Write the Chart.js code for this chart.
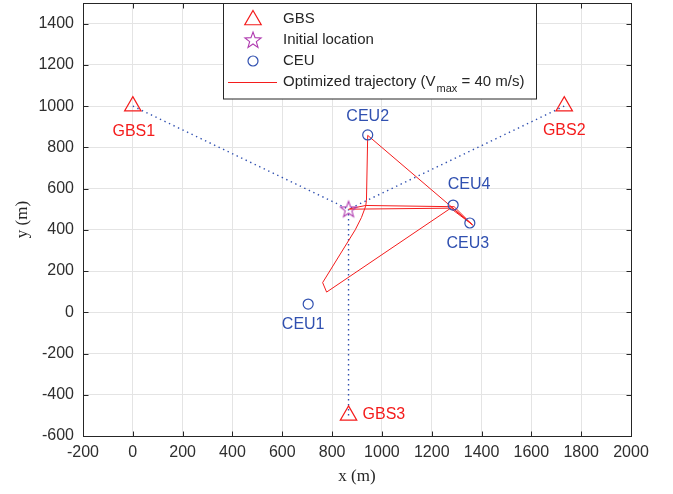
<!DOCTYPE html>
<html>
<head>
<meta charset="utf-8">
<script src="https://cdn.jsdelivr.net/npm/chart.js@4/dist/chart.umd.min.js"></script>
<style>
  html, body { margin: 0; padding: 0; background: #fff; }
  #wrap { width: 673px; height: 494px; }
</style>
</head>
<body>
<div id="wrap"><canvas id="trajChart"></canvas></div>
<script>
'use strict'

// ---- data ----
let xTicks = [-200, 0, 200, 400, 600, 800, 1000, 1200, 1400, 1600, 1800, 2000];
let yTicks = [-600, -400, -200, 0, 200, 400, 600, 800, 1000, 1200, 1400];

let gbsNames = ['GBS1', 'GBS2', 'GBS3'];
let gbsX = [0, 1732, 866];
let gbsY = [1000, 1000, -500];

let startX = [866];
let startY = [500];

let ceuNames = ['CEU1', 'CEU2', 'CEU3', 'CEU4'];
let ceuX = [704, 943, 1353, 1286];
let ceuY = [40, 860, 433, 520];

let trajX = [866, 1275, 1365, 943, 938, 935, 918, 893, 762, 778, 1280, 1360, 1290, 935, 870];
let trajY = [500, 505, 423, 858, 543, 515, 460, 400, 144, 98, 508, 428, 512, 518, 502];

// ---- styles ----
const RED = '#f41c1c';
const BLUE = '#3050b0';
const PURPLE = '#b03cb0';
const AXIS = '#262626';
const SANS = '"Liberation Sans", Arial, sans-serif';
const SERIF = '"Liberation Serif", "DejaVu Serif", serif';

// five point star marker
const starImg = document.createElement('canvas');
starImg.width = 20; starImg.height = 20;
(function () {
    const c = starImg.getContext('2d');
    c.strokeStyle = PURPLE;
    c.lineWidth = 1.1;
    c.beginPath();
    for (let k = 0; k < 10; k++) {
        const r = k % 2 === 0 ? 8.5 : 3.5;
        const a = -Math.PI / 2 + k * Math.PI / 5;
        const px = 10 + r * Math.cos(a), py = 10.5 + r * Math.sin(a);
        if (k === 0) c.moveTo(px, py); else c.lineTo(px, py);
    }
    c.closePath();
    c.stroke();
})();

const pts = (xs, ys) => xs.map((v, i) => ({x: v, y: ys[i]}));

const linkSets = gbsX.map((gx, i) => ({
    label: 'link' + i,
    data: [{x: gx, y: gbsY[i]}, {x: startX[0], y: startY[0]}],
    showLine: true,
    borderColor: BLUE,
    borderWidth: 1.4,
    borderDash: [1.4, 3.6],
    pointRadius: 0,
    order: 5
}));

const dataTraj = {
    datasets: [
        ...linkSets,
        {
            label: 'Optimized trajectory',
            data: pts(trajX, trajY),
            showLine: true,
            borderColor: RED,
            borderWidth: 1,
            pointRadius: 0,
            order: 4
        },
        {
            label: 'GBS',
            data: pts(gbsX, gbsY),
            pointStyle: 'triangle',
            pointRadius: 9.5,
            borderColor: RED,
            borderWidth: 1.2,
            backgroundColor: 'rgba(0,0,0,0)',
            order: 1
        },
        {
            label: 'Initial location',
            data: pts(startX, startY),
            pointStyle: starImg,
            order: 1
        },
        {
            label: 'CEU',
            data: pts(ceuX, ceuY),
            pointStyle: 'circle',
            pointRadius: 5,
            borderColor: BLUE,
            borderWidth: 1.2,
            backgroundColor: 'rgba(0,0,0,0)',
            order: 1
        }
    ]
};

// label offsets in pixels [dx, dy, align]
const gbsOff = [[1, 25, 'center'], [0, 24, 'center'], [14, -1, 'left']];
const ceuOff = [[-5, 21, 'center'], [0, -18, 'center'], [-2, 21, 'center'], [16, -20, 'center']];

function triPath(ctx, cx, cy, r) {
    ctx.beginPath();
    for (let k = 0; k < 3; k++) {
        const a = -Math.PI / 2 + k * 2 * Math.PI / 3;
        const px = cx + r * Math.cos(a), py = cy + r * Math.sin(a);
        if (k === 0) ctx.moveTo(px, py); else ctx.lineTo(px, py);
    }
    ctx.closePath();
}

const decor = {
    id: 'decor',
    afterDatasetsDraw(chart) {
        const {ctx, chartArea: a, scales: {x, y}} = chart;
        ctx.save();

        // text labels next to the markers
        ctx.font = '16px ' + SANS;
        ctx.textBaseline = 'middle';
        ctx.fillStyle = RED;
        gbsNames.forEach((n, i) => {
            ctx.textAlign = gbsOff[i][2];
            ctx.fillText(n, x.getPixelForValue(gbsX[i]) + gbsOff[i][0], y.getPixelForValue(gbsY[i]) + gbsOff[i][1]);
        });
        ctx.fillStyle = BLUE;
        ceuNames.forEach((n, i) => {
            ctx.textAlign = ceuOff[i][2];
            ctx.fillText(n, x.getPixelForValue(ceuX[i]) + ceuOff[i][0], y.getPixelForValue(ceuY[i]) + ceuOff[i][1]);
        });

        // axes box + inward ticks
        ctx.strokeStyle = AXIS;
        ctx.lineWidth = 1;
        const L = Math.round(a.left) + 0.5, R = Math.round(a.right) + 0.5;
        const T = Math.round(a.top) + 0.5, B = Math.round(a.bottom) + 0.5;
        ctx.strokeRect(L, T, R - L, B - T);
        ctx.beginPath();
        xTicks.forEach(v => {
            const p = Math.round(x.getPixelForValue(v)) + 0.5;
            ctx.moveTo(p, B); ctx.lineTo(p, B - 5);
            ctx.moveTo(p, T); ctx.lineTo(p, T + 5);
        });
        yTicks.forEach(v => {
            const p = Math.round(y.getPixelForValue(v)) + 0.5;
            ctx.moveTo(L, p); ctx.lineTo(L + 5, p);
            ctx.moveTo(R, p); ctx.lineTo(R - 5, p);
        });
        ctx.stroke();

        // legend
        const bx = 223.5, by = T, bw = 313, bh = 99 - T;
        ctx.fillStyle = '#fff';
        ctx.fillRect(bx, by, bw, bh);
        ctx.strokeStyle = AXIS;
        ctx.strokeRect(bx, by, bw, bh);

        const mx = 253, tx = 283;
        const rows = [19, 40, 61, 82];
        ctx.strokeStyle = RED; ctx.lineWidth = 1.2;
        triPath(ctx, mx, rows[0] + 1, 9.5);
        ctx.stroke();
        ctx.drawImage(starImg, mx - 10, rows[1] - 10);
        ctx.strokeStyle = BLUE;
        ctx.beginPath(); ctx.arc(mx, rows[2], 5, 0, Math.PI * 2); ctx.stroke();
        ctx.strokeStyle = RED; ctx.lineWidth = 1;
        ctx.beginPath(); ctx.moveTo(228, rows[3] + 0.5); ctx.lineTo(277, rows[3] + 0.5); ctx.stroke();

        ctx.fillStyle = AXIS;
        ctx.textAlign = 'left';
        ctx.font = '15px ' + SANS;
        ctx.fillText('GBS', tx, rows[0]);
        ctx.fillText('Initial location', tx, rows[1]);
        ctx.fillText('CEU', tx, rows[2]);
        const s1 = 'Optimized trajectory (V';
        ctx.fillText(s1, tx, rows[3]);
        let w = ctx.measureText(s1).width;
        ctx.font = '11px ' + SANS;
        ctx.fillText('max', tx + w + 1, rows[3] + 7);
        w += ctx.measureText('max').width + 1;
        ctx.font = '15px ' + SANS;
        ctx.fillText(' = 40 m/s)', tx + w, rows[3]);

        ctx.restore();
    }
};

const plain = v => String(v);

const configTraj = {
    type: 'scatter',
    data: dataTraj,
    options: {
        responsive: true,
        maintainAspectRatio: false,
        animation: false,
        layout: {autoPadding: false, padding: {left: 0, right: 42, top: 3, bottom: 0}},
        plugins: {legend: {display: false}, tooltip: {enabled: false}},
        scales: {
            x: {
                type: 'linear',
                min: -200,
                max: 2000,
                afterBuildTicks: s => { s.ticks = xTicks.map(v => ({value: v})); },
                afterFit: s => { s.height = 58; s.paddingLeft = 0; s.paddingRight = 0; },
                ticks: {font: {size: 16, family: SANS}, color: '#2e2e2e', padding: 7, maxRotation: 0, autoSkip: false, callback: plain},
                grid: {color: '#e4e4e4', drawTicks: false},
                border: {display: false},
                title: {display: true, text: 'x (m)', color: AXIS, font: {size: 17, family: SERIF}, padding: {top: 0, bottom: 7}}
            },
            y: {
                type: 'linear',
                min: -600,
                max: 1500,
                afterBuildTicks: s => { s.ticks = yTicks.map(v => ({value: v})); },
                afterFit: s => { s.width = 83; s.paddingTop = 0; s.paddingBottom = 0; },
                ticks: {font: {size: 16, family: SANS}, color: '#2e2e2e', padding: 9, autoSkip: false, callback: plain},
                grid: {color: '#e4e4e4', drawTicks: false},
                border: {display: false},
                title: {display: true, text: 'y (m)', color: AXIS, font: {size: 17, family: SERIF}, padding: {top: 12, bottom: 0}}
            }
        }
    },
    plugins: [decor]
};

const chartTraj = new Chart(document.getElementById('trajChart'), configTraj);
</script>
</body>
</html>
